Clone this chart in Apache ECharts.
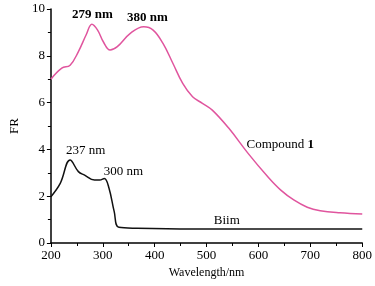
<!DOCTYPE html>
<html>
<head>
<meta charset="utf-8">
<script src="https://cdn.jsdelivr.net/npm/echarts@6/dist/echarts.min.js"></script>
<style>
  html, body { margin: 0; padding: 0; background: #fff; }
  #chart { width: 375px; height: 286px; }
</style>
</head>
<body>
<div id="chart"></div>
<script>
// 数据：波长 (nm) 与 FR
var compoundX = [200, 221, 237, 253, 268, 279, 290, 301, 314, 328, 353, 379, 397, 416, 435, 454, 473, 492, 511, 543, 580, 618, 643, 668, 694, 719, 757, 800];
var compoundY = [7.0, 7.47, 7.6, 8.18, 8.9, 9.35, 9.1, 8.6, 8.25, 8.39, 8.96, 9.24, 9.1, 8.53, 7.68, 6.82, 6.25, 5.97, 5.68, 4.9, 3.83, 2.83, 2.26, 1.84, 1.53, 1.38, 1.29, 1.24];
var biimX = [200, 218, 237, 253, 265, 284, 294, 303, 312, 322, 331, 366, 473, 600, 800];
var biimY = [1.98, 2.55, 3.55, 3.05, 2.9, 2.69, 2.69, 2.76, 2.34, 1.34, 0.67, 0.63, 0.6, 0.6, 0.6];
var xTicks = [200, 300, 400, 500, 600, 700, 800];
var yTicks = [0, 2, 4, 6, 8, 10];

function pairs(xs, ys) {
    var out = [];
    for (var i = 0; i < xs.length; i++) out.push([xs[i], ys[i]]);
    return out;
}

var font = '"Liberation Serif", "DejaVu Serif", serif';
var axisColor = '#000';

var myChart = echarts.init(document.getElementById('chart'));

// 文字标注（标在数据坐标上）
function note(x, y, text, extra) {
    var lbl = { show: true, position: 'inside', formatter: text, color: '#000', fontFamily: font, fontSize: 13 };
    for (var k in extra) lbl[k] = extra[k];
    return { coord: [x, y], symbol: 'circle', symbolSize: 1, itemStyle: { color: 'rgba(0,0,0,0)' }, label: lbl };
}

var option = {
    animation: false,
    textStyle: { fontFamily: font },
    grid: { left: 45, right: 12, top: 9, bottom: 43 },
    xAxis: {
        type: 'value',
        min: xTicks[0],
        max: xTicks[xTicks.length - 1],
        interval: 100,
        name: 'Wavelength/nm',
        nameLocation: 'middle',
        nameGap: 24,
        nameTextStyle: { color: '#000', fontSize: 12, fontFamily: font },
        axisLine: { lineStyle: { color: axisColor, width: 1.5 } },
        axisTick: { lineStyle: { color: axisColor }, length: 4 },
        minorTick: { show: true, splitNumber: 2, length: 3, lineStyle: { color: axisColor } },
        axisLabel: { color: '#000', fontSize: 13, fontFamily: font, margin: 6 },
        splitLine: { show: false }
    },
    yAxis: {
        type: 'value',
        min: yTicks[0],
        max: yTicks[yTicks.length - 1],
        interval: 2,
        name: 'FR',
        nameLocation: 'middle',
        nameGap: 26,
        nameTextStyle: { color: '#000', fontSize: 13, fontFamily: font },
        axisLine: { show: true, lineStyle: { color: axisColor, width: 1.5 } },
        axisTick: { show: true, lineStyle: { color: axisColor }, length: 4 },
        minorTick: { show: true, splitNumber: 2, length: 3, lineStyle: { color: axisColor } },
        axisLabel: { color: '#000', fontSize: 13, fontFamily: font, margin: 6 },
        splitLine: { show: false }
    },
    series: [
        {
            name: 'Compound 1',
            type: 'line',
            smooth: 0.4,
            showSymbol: false,
            data: pairs(compoundX, compoundY),
            lineStyle: { color: '#e0559e', width: 1.5 },
            markPoint: {
                data: [
                    note(280, 9.75, '279 nm', { fontWeight: 'bold' }),
                    note(386, 9.65, '380 nm', { fontWeight: 'bold' }),
                    note(642, 4.2, '{a|Compound }{b|1}', {
                        rich: {
                            a: { fontFamily: font, fontSize: 13, color: '#000' },
                            b: { fontFamily: font, fontSize: 13, fontWeight: 'bold', color: '#000' }
                        }
                    })
                ]
            }
        },
        {
            name: 'Biim',
            type: 'line',
            smooth: 0.4,
            showSymbol: false,
            data: pairs(biimX, biimY),
            lineStyle: { color: '#111', width: 1.5 },
            markPoint: {
                data: [
                    note(267, 3.95, '237 nm'),
                    note(340, 3.05, '300 nm'),
                    note(539, 0.97, 'Biim')
                ]
            }
        }
    ]
};

myChart.setOption(option);
</script>
</body>
</html>
